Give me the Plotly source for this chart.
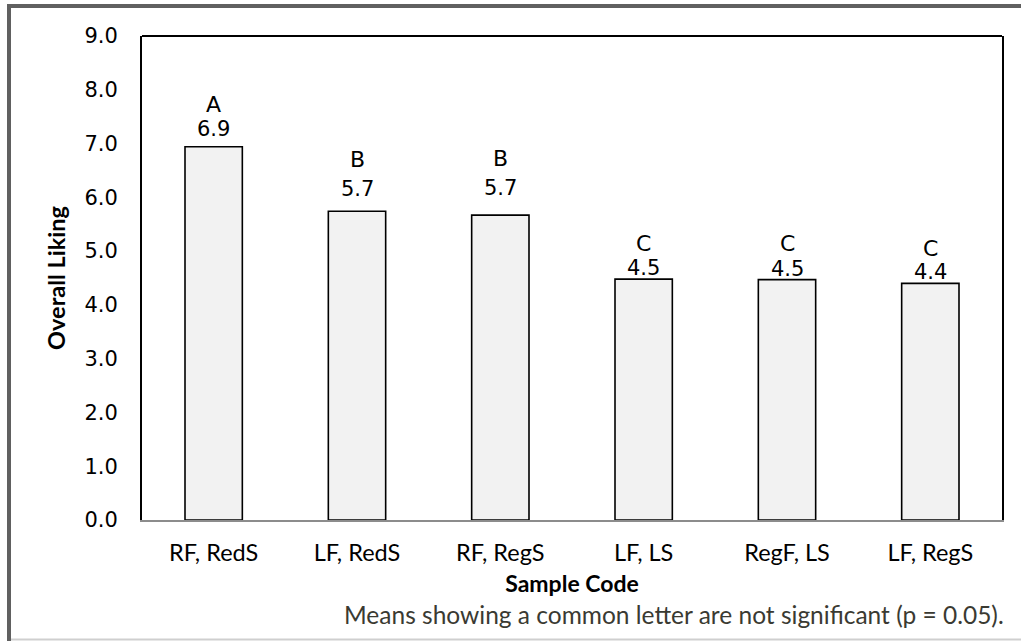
import plotly.graph_objects as go

categories = ["RF, RedS", "LF, RedS", "RF, RegS", "LF, LS", "RegF, LS", "LF, RegS"]
liking = [6.94, 5.74, 5.67, 4.48, 4.47, 4.40]
letters = ["A", "B", "B", "C", "C", "C"]
y_ticks = [0, 1, 2, 3, 4, 5, 6, 7, 8, 9]
footnote = "Means showing a common letter are not significant (p = 0.05)."

# styling: pixel offsets of the labels above each bar top
value_shift = [18, 22, 27, 11, 11, 11]
letter_shift = [42, 52, 57, 36, 36, 35]

NUM_FONT = "DejaVu Sans"
TXT_FONT = "Lato"

fig = go.Figure()
fig.add_trace(go.Bar(
    x=categories, y=liking, width=0.4,
    marker=dict(color="#f2f2f2", line=dict(color="#000000", width=1.6)),
    hoverinfo="x+y",
))

anns = []
for c, v, l, vs, ls in zip(categories, liking, letters, value_shift, letter_shift):
    anns.append(dict(x=c, y=v, xref="x", yref="y", text=f"{v:.1f}", showarrow=False,
                     yanchor="middle", yshift=vs, font=dict(family=NUM_FONT, size=21, color="#000")))
    anns.append(dict(x=c, y=v, xref="x", yref="y", text=l, showarrow=False,
                     yanchor="middle", yshift=ls, font=dict(family=NUM_FONT, size=22, color="#000")))
anns.append(dict(x=1.005, y=-0.195, xref="paper", yref="paper", text=footnote, showarrow=False,
                 xanchor="right", yanchor="middle", font=dict(family=TXT_FONT, size=24.5, color="#3a3a32")))

shapes = [
    # plot top border
    dict(type="line", xref="paper", yref="paper", x0=0, x1=1, y0=1, y1=1,
         line=dict(color="#000", width=2)),
    # outer frame left (pixel positioned)
    dict(type="line", xref="paper", yref="paper", xsizemode="pixel", ysizemode="pixel",
         xanchor=0, yanchor=0, x0=-133, x1=-133, y0=-125, y1=516,
         line=dict(color="#606060", width=4)),
    # outer frame top
    dict(type="line", xref="paper", yref="paper", xsizemode="pixel", ysizemode="pixel",
         xanchor=0, yanchor=0, x0=-135, x1=900, y0=514, y1=514,
         line=dict(color="#606060", width=4)),
    # outer frame bottom (light)
    dict(type="line", xref="paper", yref="paper", xsizemode="pixel", ysizemode="pixel",
         xanchor=0, yanchor=0, x0=-131, x1=900, y0=-119.5, y1=-119.5,
         line=dict(color="#cfcfcf", width=2)),
]

fig.update_layout(
    width=1021, height=641,
    margin=dict(l=142, r=19, t=36, b=121),
    paper_bgcolor="white", plot_bgcolor="white",
    showlegend=False, bargap=0.6,
    annotations=anns, shapes=shapes,
    xaxis=dict(
        showline=True, linecolor="#8c8c8c", linewidth=2, showgrid=False,
        ticks="outside", ticklen=11, tickcolor="rgba(0,0,0,0)",
        tickfont=dict(family=TXT_FONT, size=23.5, color="#000"),
        title=dict(text="<b>Sample Code</b>", standoff=11,
                   font=dict(family=TXT_FONT, size=23, color="#000")),
    ),
    yaxis=dict(
        range=[0, 9], tickvals=y_ticks, ticktext=[f"{t:.1f}" for t in y_ticks],
        showline=True, linecolor="#000", linewidth=2, mirror=True, showgrid=False,
        zeroline=False,
        ticks="outside", ticklen=18, tickcolor="rgba(0,0,0,0)",
        tickfont=dict(family=NUM_FONT, size=21, color="#000"),
        title=dict(text="<b>Overall Liking</b>", standoff=12,
                   font=dict(family=TXT_FONT, size=23.5, color="#000")),
    ),
)

fig.write_html("out.html")
